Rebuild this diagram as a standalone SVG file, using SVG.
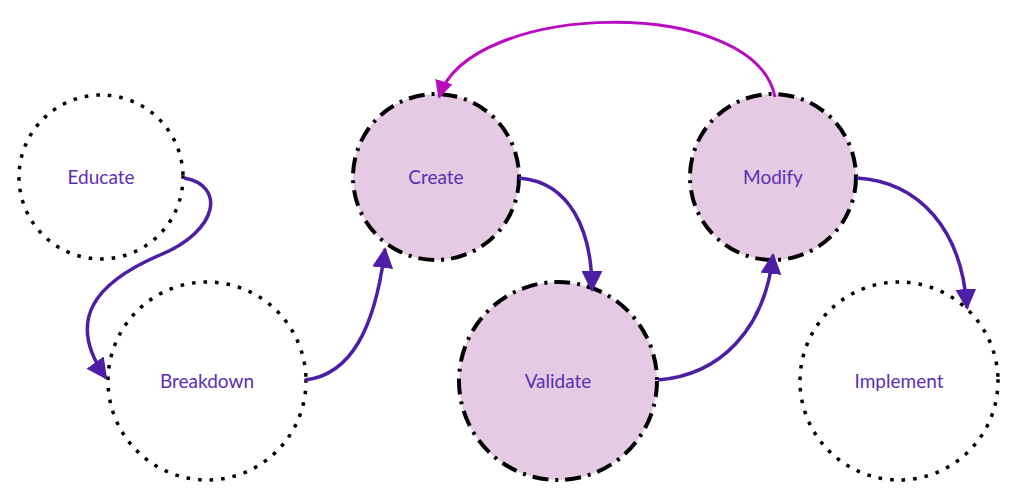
<svg xmlns="http://www.w3.org/2000/svg" width="1024" height="502" viewBox="0 0 1024 502">
<defs>
<marker id="a" viewBox="0 0 10 10" refX="9" refY="5" markerWidth="6" markerHeight="6" markerUnits="strokeWidth" orient="auto"><path d="M0,0 L10,5 L0,10 z" fill="#4e1fa6"/></marker>
<marker id="m" viewBox="0 0 10 10" refX="9" refY="5" markerWidth="6" markerHeight="6" markerUnits="strokeWidth" orient="auto"><path d="M0,0 L10,5 L0,10 z" fill="#b90cc0"/></marker>
<style>
.dot{fill:none;stroke:#000;stroke-width:3.5;stroke-dasharray:0.1 11.5;stroke-linecap:square}
.dd{fill:#e4cbe3;stroke:#000;stroke-width:4;stroke-dasharray:16 7 3 7}
.t{font-family:Lato,"Open Sans",sans-serif;font-size:19px;fill:#5b2eb4;text-anchor:middle}
.c{fill:none;stroke:#4e1fa6;stroke-width:3.5}
</style>
</defs>
<rect width="1024" height="502" fill="#fff"/>
<g id="educate"><circle class="dot" cx="101" cy="177" r="82"/><text class="t" x="101" y="184">Educate</text></g>
<g id="breakdown"><circle class="dot" cx="207" cy="381" r="99"/><text class="t" x="207" y="388">Breakdown</text></g>
<g id="create"><circle class="dd" cx="436" cy="177" r="83"/><text class="t" x="436" y="184">Create</text></g>
<g id="validate"><circle class="dd" cx="558" cy="381" r="99"/><text class="t" x="558" y="388">Validate</text></g>
<g id="modify"><circle class="dd" cx="773" cy="177" r="83"/><text class="t" x="773" y="184">Modify</text></g>
<g id="implement"><circle class="dot" cx="899" cy="381" r="99"/><text class="t" x="899" y="388">Implement</text></g>
<g id="connectors">
<path class="c" marker-end="url(#a)" d="M184,178 C225,185 220,230 160,255 C95,283 65,320 106,378"/>
<path class="c" marker-end="url(#a)" d="M305,380 C350,375 375,330 385,249"/>
<path class="c" marker-end="url(#a)" d="M519,178 C570,182 592,230 592,290"/>
<path class="c" marker-end="url(#a)" d="M658,380 C720,375 765,330 773,255"/>
<path class="c" marker-end="url(#a)" d="M857,178 C920,182 962,230 967,308"/>
<path fill="none" stroke="#b90cc0" stroke-width="3" marker-end="url(#m)" d="M775,97 C755,-5 470,0 439,97"/>
</g>
</svg>
